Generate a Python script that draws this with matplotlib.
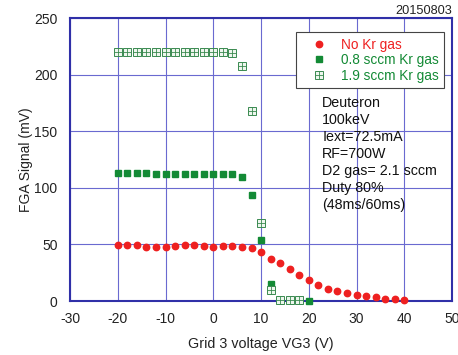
import matplotlib
matplotlib.use("Agg")
import matplotlib.pyplot as plt
from matplotlib.legend_handler import HandlerTuple

# Data
vg3_red = [-20, -18, -16, -14, -12, -10, -8, -6, -4, -2, 0, 2, 4, 6, 8, 10, 12, 14, 16, 18,
           20, 22, 24, 26, 28, 30, 32, 34, 36, 38, 40]
no_kr = [49.4, 49.4, 49.4, 48, 48, 48, 48.5, 49.4, 49.4, 48.5, 48, 48.5, 48.5, 48, 46.8, 43.5,
         37.4, 33.2, 27.9, 23.2, 18.2, 13.8, 10.3, 8.5, 6.8, 5.3, 4.1, 3.2, 2.1, 1.5, 0.9]

vg3_green = [-20, -18, -16, -14, -12, -10, -8, -6, -4, -2, 0, 2, 4, 6, 8, 10, 12, 14, 16, 18, 20]
kr_08 = [113, 113, 113, 113, 112, 112, 112, 112, 112, 112, 112, 112, 112, 109.7, 94, 53.5, 15.3,
         0.5, 0.5, 0.5, 0]

vg3_hatch = [-20, -18, -16, -14, -12, -10, -8, -6, -4, -2, 0, 2, 4, 6, 8, 10, 12, 14, 16, 18]
kr_19 = [220, 220, 220, 220, 220, 220, 220, 220, 220, 220, 220, 220, 219, 208, 168, 69, 9.7,
         1, 1, 1]

xticks = [-30, -20, -10, 0, 10, 20, 30, 40, 50]
yticks = [0, 50, 100, 150, 200, 250]

info_lines = ["Deuteron", "100keV", "Iext=72.5mA", "RF=700W", "D2 gas= 2.1 sccm",
              "Duty 80%", "(48ms/60ms)"]

plt.rcParams['font.family'] = ['Liberation Sans', 'DejaVu Sans']
plt.rcParams['axes.unicode_minus'] = False

red = '#ee2020'
green = '#138a35'
hgreen = '#3a8a50'
axcol = '#3030a8'

fig = plt.figure(figsize=(4.58, 3.55), dpi=100)
ax = fig.add_axes([0.153, 0.152, 0.834, 0.797])

ax.set_xlim(-30, 50)
ax.set_ylim(0, 250)
ax.set_xticks(xticks)
ax.set_yticks(yticks)
ax.grid(True, color='#6a6ad0', linewidth=0.8)
ax.set_axisbelow(True)
for s in ax.spines.values():
    s.set_color(axcol)
    s.set_linewidth(1.5)
ax.tick_params(axis='both', length=0, labelsize=10, colors='#222222')
ax.tick_params(axis='x', pad=8)
ax.tick_params(axis='y', pad=9)

h_red, = ax.plot(vg3_red, no_kr, 'o', color=red, ms=4.6, mec=red, zorder=4, clip_on=False)
h_g, = ax.plot(vg3_green, kr_08, 's', color=green, ms=4.1, mec=green, zorder=3, clip_on=False)
h_hs, = ax.plot(vg3_hatch, kr_19, 's', mfc='#eef6ee', mec=hgreen, mew=0.7, ms=5.6, zorder=5, clip_on=False)
h_hp, = ax.plot(vg3_hatch, kr_19, '+', color=hgreen, mew=0.6, ms=5.6, zorder=6, clip_on=False)

leg = ax.legend([h_red, h_g, (h_hs, h_hp)],
                ["No Kr gas", "0.8 sccm Kr gas", "1.9 sccm Kr gas"],
                handler_map={tuple: HandlerTuple(ndivide=1)},
                loc='upper right', bbox_to_anchor=(0.99, 0.965), fontsize=9.8,
                frameon=True, fancybox=False, edgecolor='#444444', framealpha=1,
                handlelength=2.6, handletextpad=0.3, labelspacing=0.12,
                borderpad=0.4, borderaxespad=0.3)
leg.get_frame().set_linewidth(0.8)
for t, c in zip(leg.get_texts(), [red, green, green]):
    t.set_color(c)

ax.text(0.66, 0.725, "\n".join(info_lines), transform=ax.transAxes, fontsize=10.3,
        va='top', ha='left', linespacing=1.27, color='#111111')

ax.set_xlabel("Grid 3 voltage VG3 (V)", fontsize=10.3, color='#222222', labelpad=8)
ax.set_ylabel("FGA Signal (mV)", fontsize=10, color='#222222')
ax.yaxis.set_label_coords(-0.098, 0.5)

fig.text(0.987, 0.985, "20150803", ha='right', va='top', fontsize=9.2, color='#222222')

fig.savefig("out.png", dpi=100)
